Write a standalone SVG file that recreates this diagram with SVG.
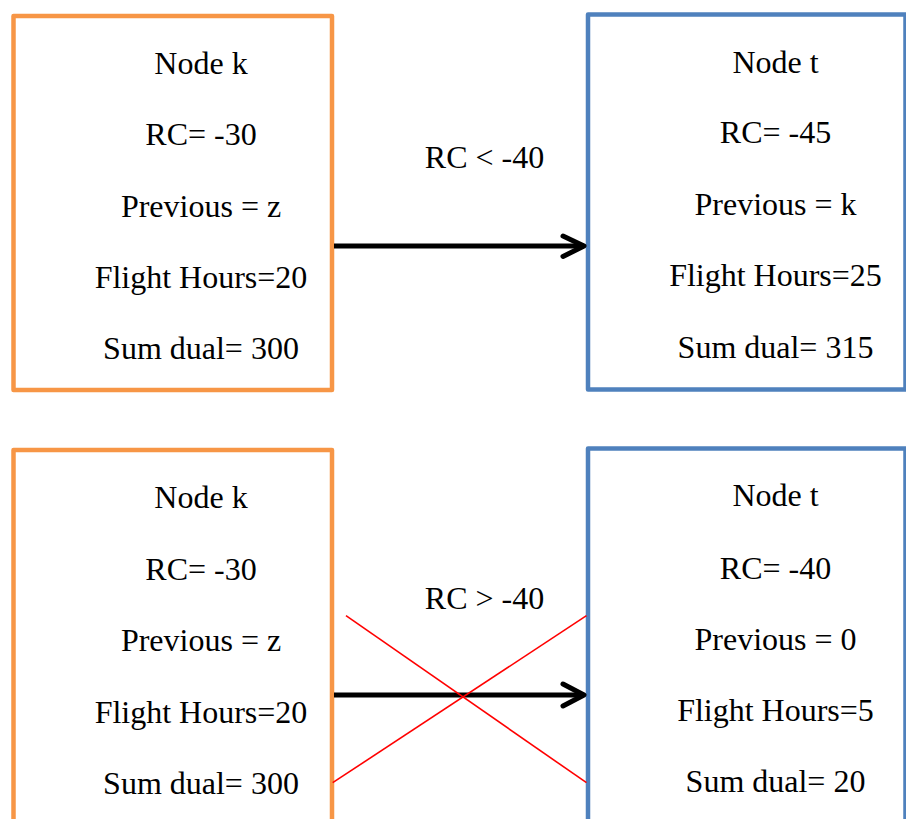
<svg xmlns="http://www.w3.org/2000/svg" width="906" height="819" viewBox="0 0 906 819">
  <style>
    .box { fill: #ffffff; stroke-width: 4.5; stroke-linejoin: round; }
    .orange { stroke: #F79646; }
    .blue { stroke: #4F81BD; }
    text { font-family: "Liberation Serif", "Times New Roman", serif; font-size: 32px; fill: #000000; text-anchor: middle; }
    .arrow { stroke: #000000; stroke-width: 5; fill: none; stroke-linecap: round; stroke-linejoin: round; }
    .cross { stroke: #FF0000; stroke-width: 1.6; fill: none; }
  </style>
  <rect width="906" height="819" fill="#ffffff"/>

  <!-- upper pair -->
  <g id="node-k-top">
    <rect class="box orange" x="13.5" y="16" width="318.5" height="374"/>
    <text x="201" y="74">Node k</text>
    <text x="201" y="145">RC= -30</text>
    <text x="201" y="217">Previous = z</text>
    <text x="201" y="288">Flight Hours=20</text>
    <text x="201" y="359">Sum dual= 300</text>
  </g>
  <g id="node-t-top">
    <rect class="box blue" x="588" y="14.5" width="317.5" height="375"/>
    <text x="775.5" y="72.5">Node t</text>
    <text x="775.5" y="143">RC= -45</text>
    <text x="775.5" y="215">Previous = k</text>
    <text x="775.5" y="286">Flight Hours=25</text>
    <text x="775.5" y="358">Sum dual= 315</text>
  </g>

  <!-- lower pair -->
  <g id="node-k-bottom">
    <rect class="box orange" x="13.5" y="450" width="318.5" height="380"/>
    <text x="201" y="508">Node k</text>
    <text x="201" y="580">RC= -30</text>
    <text x="201" y="651">Previous = z</text>
    <text x="201" y="723">Flight Hours=20</text>
    <text x="201" y="794">Sum dual= 300</text>
  </g>
  <g id="node-t-bottom">
    <rect class="box blue" x="588" y="448.5" width="317.5" height="380"/>
    <text x="775.5" y="506">Node t</text>
    <text x="775.5" y="579">RC= -40</text>
    <text x="775.5" y="650">Previous = 0</text>
    <text x="775.5" y="721">Flight Hours=5</text>
    <text x="775.5" y="791.5">Sum dual= 20</text>
  </g>

  <!-- connectors -->
  <g id="connectors">
    <line class="arrow" x1="334" y1="246" x2="584" y2="246" style="stroke-linecap:butt"/>
    <polyline class="arrow" points="563,236 584,246 563,256.5"/>
    <text x="484.5" y="168">RC &lt; -40</text>

    <line class="arrow" x1="334" y1="695" x2="584" y2="695" style="stroke-linecap:butt"/>
    <polyline class="arrow" points="563,684 584,695 563,706"/>
    <text x="484.5" y="609">RC &gt; -40</text>

    <line class="cross" x1="346" y1="615.7" x2="586.5" y2="782.7"/>
    <line class="cross" x1="332.7" y1="782.7" x2="586.5" y2="615.7"/>
  </g>
</svg>
